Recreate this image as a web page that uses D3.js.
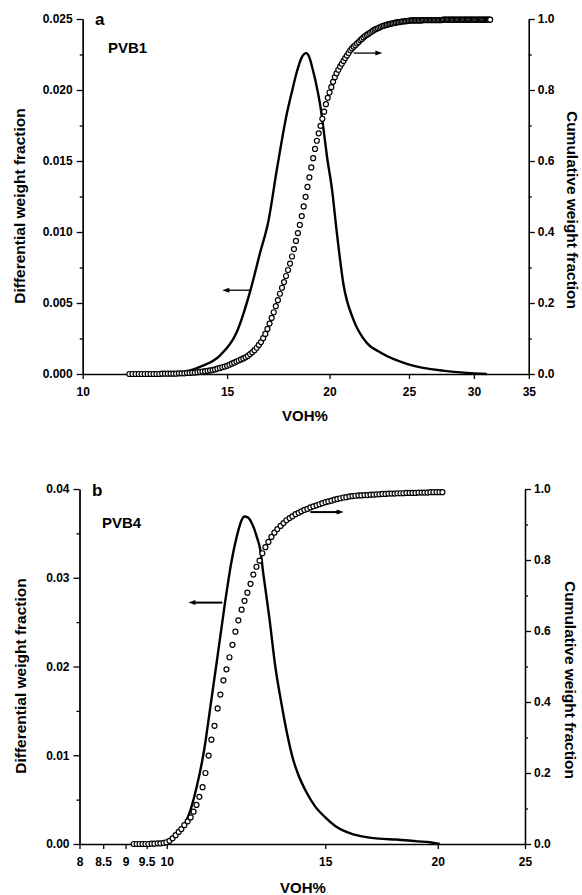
<!DOCTYPE html>
<html>
<head>
<meta charset="utf-8">
<script src="https://cdn.jsdelivr.net/npm/d3@7"></script>
<style>
body { margin: 0; background: #fff; }
svg text { font-family: "Liberation Sans", Arial, sans-serif; font-weight: bold; fill: #000; }
</style>
</head>
<body>
<svg id="chart" width="582" height="895"></svg>
<script>
// ---- PVB1 (panel a) ----
const pvb1DiffVoh = [11.4, 12.5, 13.2, 13.9, 14.7, 15.4, 16.0, 16.45, 16.85, 17.25, 17.75, 18.0, 18.25, 18.5, 18.73,
    18.9, 19.05, 19.3, 19.5, 19.67, 19.86, 20.14, 20.42, 20.8, 21.4, 22.2, 23.1, 24.9, 27.8, 31.1];
const pvb1Diff = [0, 0, 0.0001, 0.0005, 0.0013, 0.0029, 0.0058, 0.0085, 0.0108, 0.0144, 0.0184, 0.0199, 0.0213, 0.0223, 0.0226,
    0.0223, 0.0216, 0.0202, 0.0188, 0.0172, 0.0153, 0.0130, 0.0099, 0.0063, 0.0038, 0.0022, 0.0015, 0.0007, 0.0002, 0];

const pvb1CumVoh = [
    11.4, 11.5, 11.6, 11.7, 11.8, 11.9, 12.0, 12.1, 12.2, 12.3,
    12.4, 12.5, 12.6, 12.7, 12.8, 12.9, 13.0, 13.1, 13.2, 13.3,
    13.4, 13.5, 13.6, 13.7, 13.8, 13.9, 14.0, 14.1, 14.2, 14.3,
    14.4, 14.5, 14.6, 14.7, 14.8, 14.9, 15.0, 15.1, 15.2, 15.3,
    15.4, 15.5, 15.6, 15.7, 15.8, 15.9, 16.0, 16.1, 16.2, 16.3,
    16.4, 16.5, 16.6, 16.7, 16.8, 16.9, 17.0, 17.1, 17.2, 17.3,
    17.4, 17.5, 17.6, 17.7, 17.8, 17.9, 18.0, 18.1, 18.2, 18.3,
    18.4, 18.5, 18.6, 18.7, 18.8, 18.9, 19.0, 19.1, 19.2, 19.3,
    19.4, 19.5, 19.6, 19.7, 19.8, 19.9, 20.0, 20.1, 20.2, 20.3,
    20.4, 20.5, 20.6, 20.7, 20.8, 20.9, 21.0, 21.1, 21.2, 21.3,
    21.4, 21.5, 21.6, 21.7, 21.8, 21.9, 22.0, 22.1, 22.2, 22.3,
    22.4, 22.5, 22.6, 22.7, 22.8, 22.9, 23.0, 23.1, 23.2, 23.3,
    23.4, 23.5, 23.6, 23.7, 23.8, 23.9, 24.0, 24.1, 24.2, 24.3,
    24.4, 24.5, 24.6, 24.7, 24.8, 24.9, 25.0, 25.1, 25.2, 25.3,
    25.4, 25.5, 25.6, 25.7, 25.8, 25.9, 26.0, 26.1, 26.2, 26.3,
    26.4, 26.5, 26.6, 26.7, 26.8, 26.9, 27.0, 27.1, 27.2, 27.3,
    27.4, 27.5, 27.6, 27.7, 27.8, 27.9, 28.0, 28.1, 28.2, 28.3,
    28.4, 28.5, 28.6, 28.7, 28.8, 28.9, 29.0, 29.1, 29.2, 29.3,
    29.4, 29.5, 29.6, 29.7, 29.8, 29.9, 30.0, 30.1, 30.2, 30.3,
    30.4, 30.5, 30.6, 30.7, 30.8, 30.9, 31.0, 31.1, 31.2, 31.3,
    31.4];
const pvb1Cum = [
    0.000, 0.000, 0.000, 0.000, 0.000, 0.000, 0.000, 0.000, 0.000, 0.000,
    0.000, 0.001, 0.001, 0.001, 0.001, 0.001, 0.001, 0.002, 0.002, 0.002,
    0.003, 0.003, 0.004, 0.004, 0.005, 0.006, 0.007, 0.008, 0.009, 0.010,
    0.011, 0.013, 0.015, 0.017, 0.019, 0.021, 0.023, 0.026, 0.029, 0.032,
    0.035, 0.038, 0.041, 0.044, 0.047, 0.051, 0.056, 0.061, 0.067, 0.074,
    0.082, 0.090, 0.101, 0.113, 0.127, 0.142, 0.158, 0.174, 0.191, 0.208,
    0.226, 0.243, 0.259, 0.276, 0.293, 0.311, 0.331, 0.352, 0.375, 0.397,
    0.420, 0.445, 0.472, 0.499, 0.527, 0.554, 0.582, 0.608, 0.634, 0.657,
    0.678, 0.699, 0.719, 0.739, 0.760, 0.778, 0.793, 0.808, 0.823, 0.836,
    0.847, 0.857, 0.866, 0.874, 0.882, 0.890, 0.897, 0.904, 0.912, 0.917,
    0.922, 0.926, 0.931, 0.935, 0.940, 0.944, 0.948, 0.952, 0.955, 0.958,
    0.961, 0.964, 0.967, 0.970, 0.972, 0.974, 0.976, 0.978, 0.980, 0.981,
    0.983, 0.984, 0.985, 0.986, 0.987, 0.988, 0.989, 0.990, 0.991, 0.991,
    0.992, 0.993, 0.993, 0.994, 0.994, 0.995, 0.995, 0.996, 0.996, 0.996,
    0.996, 0.996, 0.996, 0.996, 0.996, 0.996, 0.997, 0.997, 0.997, 0.997,
    0.997, 0.997, 0.997, 0.997, 0.997, 0.997, 0.997, 0.997, 0.997, 0.997,
    0.997, 0.998, 0.998, 0.998, 0.998, 0.998, 0.998, 0.998, 0.998, 0.998,
    0.998, 0.998, 0.998, 0.998, 0.998, 0.998, 0.998, 0.998, 0.998, 0.998,
    0.998, 0.998, 0.998, 0.998, 0.998, 0.998, 0.998, 0.998, 0.998, 0.998,
    0.998, 0.998, 0.998, 0.998, 0.998, 0.998, 0.998, 0.998, 0.998, 0.998,
    0.998];

// ---- PVB4 (panel b) ----
const pvb4DiffVoh = [9.2, 9.6, 9.8, 10.0, 10.2, 10.4, 10.6, 10.8, 11.0, 11.2, 11.4, 11.6, 11.8, 12.0, 12.1, 12.2, 12.3,
    12.45, 12.6, 12.7, 12.8, 13.0, 13.2, 13.4, 13.6, 13.8, 14.0, 14.3, 14.6, 15.0, 15.4, 16.0, 16.6, 17.2, 18.0, 19.0, 19.6, 20.1];
const pvb4Diff = [0, 0, 0.0001, 0.0003, 0.0008, 0.0017, 0.0035, 0.0065, 0.0105, 0.0160, 0.0215, 0.0270, 0.0318, 0.0352, 0.0364, 0.0369, 0.0368,
    0.0360, 0.0345, 0.0332, 0.0305, 0.0255, 0.0200, 0.0160, 0.0125, 0.0097, 0.0078, 0.0058, 0.0043, 0.0030, 0.0020, 0.0012, 0.0008, 0.0006, 0.0005, 0.0003, 0.0002, 0];

const pvb4CumVoh = [
    9.19, 9.26, 9.33, 9.40, 9.47, 9.54, 9.62, 9.69, 9.77, 9.84,
    9.92, 9.99, 10.07, 10.15, 10.23, 10.31, 10.38, 10.46, 10.55, 10.63,
    10.71, 10.79, 10.87, 10.96, 11.04, 11.13, 11.21, 11.30, 11.39, 11.47,
    11.56, 11.65, 11.74, 11.83, 11.92, 12.01, 12.11, 12.20, 12.29, 12.39,
    12.48, 12.58, 12.68, 12.77, 12.87, 12.97, 13.07, 13.17, 13.27, 13.38,
    13.48, 13.58, 13.69, 13.79, 13.90, 14.01, 14.11, 14.22, 14.33, 14.44,
    14.55, 14.67, 14.78, 14.89, 15.01, 15.12, 15.24, 15.36, 15.47, 15.59,
    15.71, 15.83, 15.96, 16.08, 16.20, 16.33, 16.45, 16.58, 16.71, 16.84,
    16.97, 17.10, 17.23, 17.36, 17.50, 17.63, 17.77, 17.91, 18.04, 18.18,
    18.32, 18.46, 18.61, 18.75, 18.89, 19.04, 19.19, 19.33, 19.48, 19.63,
    19.78, 19.94, 20.09, 20.24];
const pvb4Cum = [
    0.000, 0.000, 0.000, 0.000, 0.000, 0.000, 0.001, 0.001, 0.002, 0.002,
    0.003, 0.005, 0.009, 0.016, 0.025, 0.034, 0.042, 0.053, 0.064, 0.075,
    0.091, 0.110, 0.133, 0.160, 0.200, 0.249, 0.294, 0.333, 0.382, 0.421,
    0.461, 0.492, 0.526, 0.561, 0.598, 0.630, 0.660, 0.685, 0.708, 0.733,
    0.759, 0.781, 0.798, 0.819, 0.836, 0.851, 0.865, 0.877, 0.887, 0.896,
    0.904, 0.912, 0.918, 0.923, 0.929, 0.933, 0.937, 0.941, 0.944, 0.948,
    0.951, 0.954, 0.957, 0.960, 0.963, 0.965, 0.967, 0.970, 0.972, 0.974,
    0.976, 0.977, 0.979, 0.980, 0.981, 0.982, 0.982, 0.983, 0.983, 0.984,
    0.984, 0.985, 0.985, 0.986, 0.986, 0.987, 0.987, 0.987, 0.988, 0.988,
    0.988, 0.989, 0.989, 0.989, 0.989, 0.990, 0.990, 0.990, 0.990, 0.991,
    0.991, 0.991, 0.991, 0.991];

// axis ticks
const xTicksA = [10, 15, 20, 25, 30, 35];
const xTicksB = [8, 8.5, 9, 9.5, 10, 15, 20, 25];
const yTicksA = [0, 0.005, 0.010, 0.015, 0.020, 0.025];
const yMinorA = [0.0025, 0.0075, 0.0125, 0.0175, 0.0225];
const yTicksB = [0, 0.01, 0.02, 0.03, 0.04];
const yMinorB = [0.005, 0.015, 0.025, 0.035];
const cumTicks = [0, 0.2, 0.4, 0.6, 0.8, 1.0];
const cumMinor = [0.1, 0.3, 0.5, 0.7, 0.9];

const FONT = '"Liberation Sans", Arial, sans-serif';
const svg = d3.select("#chart");
svg.append("rect").attr("width", 582).attr("height", 895).attr("fill", "#fff");

function styleAxis(g, size) {
    g.attr("font-family", FONT).attr("font-size", size).attr("font-weight", "bold");
    g.selectAll("path, line").attr("stroke", "#000").attr("stroke-width", 1.3);
}

function arrow(g, x1, y1, x2, y2, w) {
    // line from (x1,y1) to (x2,y2) with a filled head at (x2,y2)
    const dir = Math.sign(x2 - x1);
    g.append("line")
        .attr("x1", x1).attr("y1", y1)
        .attr("x2", x2 - dir * 4).attr("y2", y2)
        .attr("stroke", "#000").attr("stroke-width", w);
    g.append("path")
        .attr("d", `M${x2},${y2} L${x2 - dir * 7},${y2 - 2.5} L${x2 - dir * 7},${y2 + 2.5} Z`)
        .attr("fill", "#000");
}

function drawPanel(p) {
    const g = svg.append("g");
    const x = d3.scaleLog().domain(p.xDomain).range([p.left, p.right]);
    const yL = d3.scaleLinear().domain(p.yDomain).range([p.bottom, p.top]);
    const yR = d3.scaleLinear().domain([0, 1]).range([p.bottom, p.top]);

    // x axis
    const gx = g.append("g")
        .attr("transform", `translate(0,${p.bottom})`)
        .call(d3.axisBottom(x).tickValues(p.xTicks).tickFormat(d => d).tickSize(5).tickSizeOuter(0).tickPadding(8));
    styleAxis(gx, 12);

    // left axis
    const gl = g.append("g")
        .attr("transform", `translate(${p.left},0)`)
        .call(d3.axisLeft(yL).tickValues(p.yTicks).tickFormat(d3.format(p.yFormat)).tickSize(6).tickSizeOuter(0).tickPadding(4));
    styleAxis(gl, 12);
    const glm = g.append("g")
        .attr("transform", `translate(${p.left},0)`)
        .call(d3.axisLeft(yL).tickValues(p.yMinor).tickFormat("").tickSize(3).tickSizeOuter(0));
    styleAxis(glm, 12);

    // right axis
    const gr = g.append("g")
        .attr("transform", `translate(${p.right},0)`)
        .call(d3.axisRight(yR).tickValues(cumTicks).tickFormat(d3.format(".1f")).tickSize(6).tickSizeOuter(0).tickPadding(3));
    styleAxis(gr, 12);
    const grm = g.append("g")
        .attr("transform", `translate(${p.right},0)`)
        .call(d3.axisRight(yR).tickValues(cumMinor).tickFormat("").tickSize(3).tickSizeOuter(0));
    styleAxis(grm, 12);

    // differential curve
    const diff = p.diffVoh.map((v, i) => ({ v, d: p.diff[i] }));
    const line = d3.line()
        .x(d => x(d.v))
        .y(d => yL(d.d))
        .curve(d3.curveMonotoneX);
    g.append("path")
        .datum(diff)
        .attr("fill", "none")
        .attr("stroke", "#000")
        .attr("stroke-width", 2.4)
        .attr("stroke-linejoin", "round")
        .attr("d", line);

    // cumulative circles
    const cum = p.cumVoh.map((v, i) => ({ v, c: p.cum[i] }));
    g.selectAll(".cum")
        .data(cum)
        .enter()
        .append("circle")
        .attr("class", "cum")
        .attr("cx", d => x(d.v))
        .attr("cy", d => yR(d.c))
        .attr("r", 2.5)
        .attr("fill", "#fff")
        .attr("stroke", "#000")
        .attr("stroke-width", 1.2);

    // arrows
    arrow(g, x(p.arrowL[0]), yL(p.arrowL[2]), x(p.arrowL[1]), yL(p.arrowL[2]), p.arrowW);
    arrow(g, x(p.arrowR[0]), yR(p.arrowR[2]), x(p.arrowR[1]), yR(p.arrowR[2]), p.arrowW);

    // labels
    g.append("text").attr("x", p.tag[1]).attr("y", p.tag[2]).attr("font-size", 17).text(p.tag[0]);
    g.append("text").attr("x", p.name[1]).attr("y", p.name[2]).attr("font-size", 15).text(p.name[0]);
    g.append("text")
        .attr("transform", `translate(${p.yTitleL[0]},${p.yTitleL[1]}) rotate(-90)`)
        .attr("text-anchor", "middle").attr("font-size", 15.5)
        .text("Differential weight fraction");
    g.append("text")
        .attr("transform", `translate(${p.yTitleR[0]},${p.yTitleR[1]}) rotate(90)`)
        .attr("text-anchor", "middle").attr("font-size", 15.5)
        .text("Cumulative weight fraction");
    g.append("text")
        .attr("x", p.xTitle[0]).attr("y", p.xTitle[1])
        .attr("text-anchor", "middle").attr("font-size", 15)
        .text("VOH%");
}

drawPanel({
    xDomain: [10, 35], yDomain: [0, 0.025],
    left: 82.7, right: 528.8, top: 19, bottom: 374,
    xTicks: xTicksA, yTicks: yTicksA, yMinor: yMinorA, yFormat: ".3f",
    diffVoh: pvb1DiffVoh, diff: pvb1Diff, cumVoh: pvb1CumVoh, cum: pvb1Cum,
    arrowL: [16.0, 14.8, 0.0059], arrowR: [21.4, 23.2, 0.904], arrowW: 1.3,
    tag: ["a", 95, 25], name: ["PVB1", 108, 53],
    yTitleL: [25, 206], yTitleR: [567, 210], xTitle: [305, 421]
});

drawPanel({
    xDomain: [8, 25], yDomain: [0, 0.04],
    left: 79.5, right: 525, top: 489, bottom: 844,
    xTicks: xTicksB, yTicks: yTicksB, yMinor: yMinorB, yFormat: ".2f",
    diffVoh: pvb4DiffVoh, diff: pvb4Diff, cumVoh: pvb4CumVoh, cum: pvb4Cum,
    arrowL: [11.53, 10.57, 0.0272], arrowR: [14.44, 15.72, 0.935], arrowW: 2,
    tag: ["b", 92, 496], name: ["PVB4", 102, 528],
    yTitleL: [26, 676], yTitleR: [565, 680], xTitle: [303, 893]
});
</script>
</body>
</html>
